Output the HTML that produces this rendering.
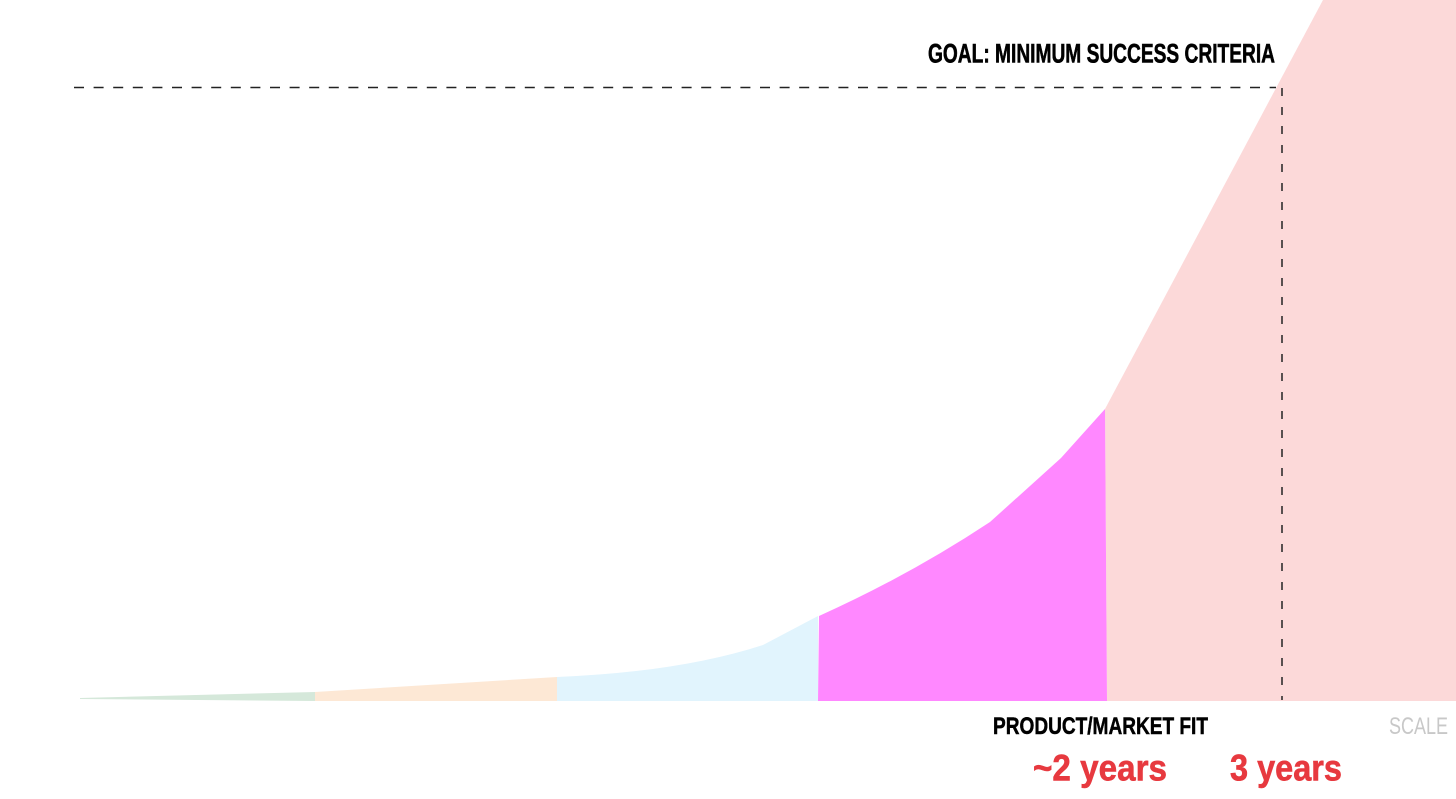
<!DOCTYPE html>
<html>
<head>
<meta charset="utf-8">
<style>
  html, body { margin: 0; padding: 0; background: #ffffff; }
  svg { display: block; }
  text { font-family: "Liberation Sans", "DejaVu Sans", sans-serif; }
</style>
</head>
<body>
<svg width="1456" height="799" viewBox="0 0 1456 799" xmlns="http://www.w3.org/2000/svg">
  <rect x="0" y="0" width="1456" height="799" fill="#ffffff"/>

  <!-- scale (pink) area -->
  <polygon points="1105,409 1323,0 1456,0 1456,701 1107,701" fill="#fcd9d9"/>

  <!-- green -->
  <polygon points="80,698 315,692 315,701 80,699" fill="#d5e8da"/>
  <line x1="315.5" y1="692" x2="315.5" y2="701" stroke="#c9dcc0" stroke-width="1"/>

  <!-- orange -->
  <polygon points="315,692 557,677 557,701 315,701" fill="#fde8d5"/>

  <!-- blue -->
  <path d="M557,677 Q680,672 763,645 L818,616 L818,701 L557,701 Z" fill="#e1f4fd"/>

  <!-- magenta -->
  <path d="M819,616 Q910,575 990,522 L1061,458 L1105,409 L1107,701 L818,701 Z" fill="#ff88ff"/>

  <!-- dashed goal line -->
  <line x1="74" y1="87.5" x2="1276" y2="87.5" stroke="#222222" stroke-width="1.5" stroke-dasharray="10,9.6"/>
  <line x1="1282" y1="88" x2="1282" y2="700" stroke="#222222" stroke-width="1.5" stroke-dasharray="8,11"/>

  <!-- labels -->
  <text x="928" y="62.5" font-size="27" font-weight="bold" fill="#000000" stroke="#000000" stroke-width="0.6" textLength="347" lengthAdjust="spacingAndGlyphs">GOAL: MINIMUM SUCCESS CRITERIA</text>
  <text x="993" y="734" font-size="24.5" font-weight="bold" fill="#000000" stroke="#000000" stroke-width="0.5" textLength="215" lengthAdjust="spacingAndGlyphs">PRODUCT/MARKET FIT</text>
  <text x="1389" y="734" font-size="24.5" fill="#c8c8c8" textLength="59" lengthAdjust="spacingAndGlyphs">SCALE</text>
  <text x="1033" y="780.5" font-size="37" font-weight="bold" fill="#e7393f" stroke="#e7393f" stroke-width="0.6" textLength="134" lengthAdjust="spacingAndGlyphs">~2 years</text>
  <text x="1230" y="780.5" font-size="37" font-weight="bold" fill="#e7393f" stroke="#e7393f" stroke-width="0.6" textLength="112" lengthAdjust="spacingAndGlyphs">3 years</text>
</svg>
</body>
</html>
